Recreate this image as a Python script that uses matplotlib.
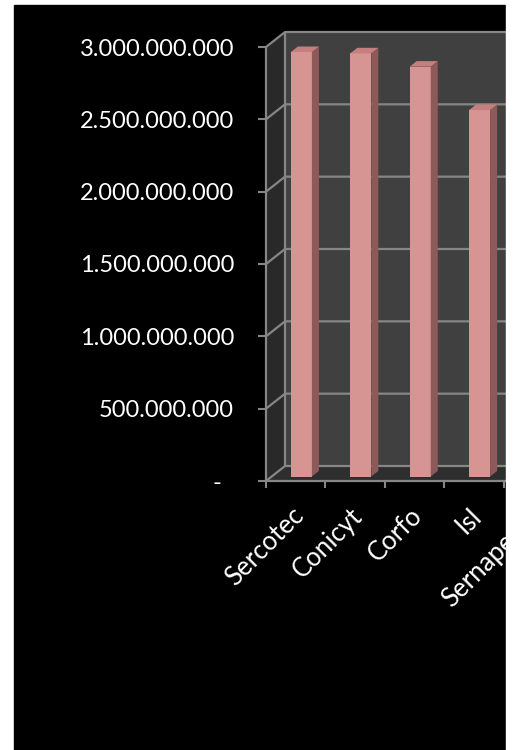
import matplotlib.pyplot as plt
import matplotlib.transforms as mtransforms
from matplotlib.patches import Polygon, Rectangle
from matplotlib.ticker import FuncFormatter, FixedLocator

# data (the chart is cut off on the right)
categories = ['Sercotec', 'Conicyt', 'Corfo', 'Isl', 'Sernapesca']
values = [2.934e9, 2.925e9, 2.833e9, 2.533e9]   # 5th bar lies outside the crop
y_ticks = [0, 5e8, 1e9, 1.5e9, 2e9, 2.5e9, 3e9]

W, H = 514, 750
plt.rcParams['font.family'] = ['Lato', 'DejaVu Sans']
fig = plt.figure(figsize=(W / 100, H / 100), dpi=100)
fig.patch.set_facecolor('white')
# black slide background
fig.add_artist(Rectangle((14 / W, 0), (506 - 14) / W, (H - 5) / H,
                         transform=fig.transFigure, color='black', zorder=-5))

n = len(categories)
ax = fig.add_axes([266 / W, (H - 481) / H, n * 59.4 / W, 434 / H])
ax.set_xlim(-0.5, n - 0.5)
ax.set_ylim(0, 3e9)
ax.set_facecolor('none')
for s in ax.spines.values():
    s.set_visible(False)

DX, DY = 19, 15          # depth offset in pixels
grid_c = '#868686'
ident = mtransforms.IdentityTransform()


def P(x, y, d):
    px, py = ax.transData.transform((x, y))
    return (px + DX * d, py + DY * d)


def poly(pts, color, z):
    ax.add_patch(Polygon(pts, closed=True, facecolor=color, edgecolor='none',
                         transform=ident, clip_on=False, zorder=z))


def line(pts, z=1.5, lw=1.6):
    xs, ys = zip(*pts)
    ax.plot(xs, ys, color=grid_c, lw=lw, transform=ident, clip_on=False,
            zorder=z, solid_capstyle='butt')


x0, x1 = -0.5, n - 0.5
ytop = y_ticks[-1]
# walls and floor
poly([P(x0, 0, 0), P(x0, ytop, 0), P(x0, ytop, 1), P(x0, 0, 1)], '#292929', 0.5)
poly([P(x0, 0, 1), P(x0, ytop, 1), P(x1, ytop, 1), P(x1, 0, 1)], '#404040', 0.5)
poly([P(x0, 0, 0), P(x1, 0, 0), P(x1, 0, 1), P(x0, 0, 1)], '#2e2e2e', 0.6)

for t in y_ticks:
    line([P(x0, t, 0), P(x0, t, 1), P(x1, t, 1)])
line([P(x0, 0, 1), P(x0, ytop, 1)])
line([P(x0, 0, 0), P(x0, ytop, 0)], z=4)
line([P(x0, 0, 0), P(x1, 0, 0)], z=4)

# bars
f0, dep, w = 0.3, 0.37, 0.354
xs = list(range(len(values)))
bars = ax.bar(xs, values, width=w, color='#d69492', zorder=3, clip_on=False)
shift = mtransforms.ScaledTranslation(DX * f0 / 100, DY * f0 / 100, fig.dpi_scale_trans)
for b in bars:
    b.set_transform(ax.transData + shift)
for i, v in zip(xs, values):
    xr, xl = i + w / 2, i - w / 2
    poly([P(xr, 0, f0), P(xr, v, f0), P(xr, v, f0 + dep), P(xr, 0, f0 + dep)], '#8c5a59', 3)
    poly([P(xl, v, f0), P(xr, v, f0), P(xr, v, f0 + dep), P(xl, v, f0 + dep)], '#c47f7e', 3)

# y axis ticks and labels
ax.yaxis.set_major_locator(FixedLocator(y_ticks))
ax.yaxis.set_major_formatter(FuncFormatter(
    lambda v, p: '-  ' if v == 0 else f'{v:,.0f}'.replace(',', '.')))
ax.tick_params(axis='y', colors=grid_c, length=6, width=1.5, pad=17,
               labelcolor='white', labelsize=17)

# x axis: tick marks on category boundaries, labels at centres
ax.set_xticks([i - 0.5 for i in range(n + 1)], minor=True)
ax.set_xticks(range(n))
ax.set_xticklabels(categories, rotation=45, ha='right', va='center',
                   rotation_mode='anchor', color='white', fontsize=18.5)
ax.tick_params(axis='x', which='major', length=0, pad=0)
ax.tick_params(axis='x', which='minor', colors=grid_c, length=5, width=1.5)
lab_shift = mtransforms.ScaledTranslation(4 / 100, -31 / 100, fig.dpi_scale_trans)
for lab in ax.get_xticklabels():
    lab.set_transform(lab.get_transform() + lab_shift)

# crop on the right like the reference
fig.add_artist(Rectangle((506 / W, 0), 8 / W, 1, transform=fig.transFigure,
                         color='white', zorder=10))

fig.savefig('out.png', dpi=100, facecolor='white')
